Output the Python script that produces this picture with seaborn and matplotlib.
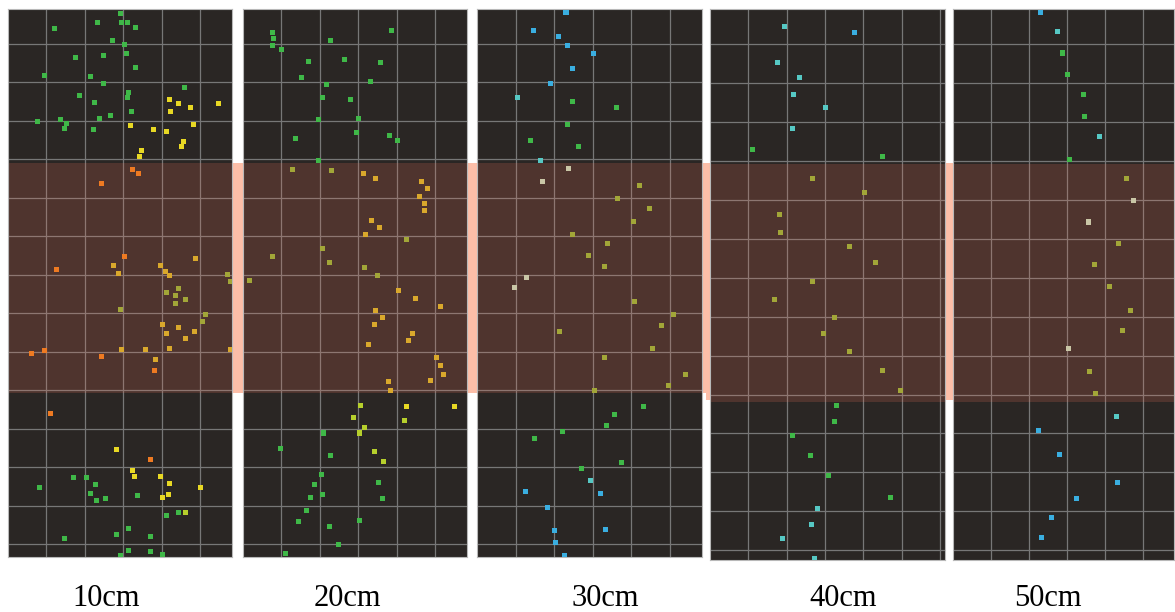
import matplotlib
matplotlib.use('Agg')
import matplotlib.pyplot as plt
from matplotlib.patches import Rectangle
import seaborn as sns

# Points, in grid-cell units (x from the left edge, y from the top edge).
# kind: g green, y yellow, yg yellow-green, o orange, a amber, v olive, b blue, t teal, p pale
labels = ['10cm', '20cm', '30cm', '40cm', '50cm']

p10_x = [2.93, 2.32, 2.96, 3.10, 3.31, 1.22, 2.71, 3.03, 3.08, 1.76, 2.49, 3.31, 0.94, 2.14,
         2.49, 1.87, 3.13, 3.10, 2.25, 3.20, 2.67, 2.39, 0.76, 1.36, 1.51, 1.46, 2.22, 4.59,
         4.19, 4.44, 4.73, 4.23, 5.46, 4.81, 3.17, 3.77, 4.12, 4.55, 4.51, 3.48, 3.42,
         3.24, 3.39, 2.42, 3.02, 2.74, 1.26, 2.88, 3.97, 4.09, 4.20, 4.87, 5.71, 5.78, 4.42,
         4.12, 4.34, 4.62, 4.34, 2.93, 5.13, 5.05, 4.02, 4.42, 4.12, 4.84, 4.62, 4.20, 2.96,
         3.58, 5.78, 0.62, 0.94, 2.42, 3.84, 3.80,
         1.11, 2.81, 3.70, 3.24, 3.29, 3.95, 4.20, 5.01, 4.16, 4.02, 1.69, 2.03, 0.83, 2.27,
         2.14, 2.29, 2.53, 3.37, 4.12, 4.42, 4.62, 3.13, 2.81, 3.71, 1.47, 3.13, 3.71, 4.02, 2.92]
p10_y = [0.11, 0.35, 0.35, 0.35, 0.47, 0.50, 0.82, 0.93, 1.15, 1.26, 1.22, 1.51, 1.72, 1.76,
         1.94, 2.24, 2.16, 2.29, 2.42, 2.67, 2.76, 2.84, 2.92, 2.87, 2.98, 3.10, 3.13, 2.03,
         2.35, 2.45, 2.56, 2.66, 2.45, 3.00, 3.03, 3.13, 3.17, 3.43, 3.57, 3.67, 3.82,
         4.16, 4.28, 4.54, 6.43, 6.65, 6.77, 6.86, 6.65, 6.82, 6.91, 6.47, 6.89, 7.08, 7.26,
         7.37, 7.45, 7.54, 7.65, 7.81, 7.94, 8.12, 8.18, 8.27, 8.43, 8.38, 8.56, 8.81, 8.85,
         8.84, 8.85, 8.94, 8.87, 9.03, 9.09, 9.39,
         10.51, 11.45, 11.70, 11.99, 12.14, 12.13, 12.33, 12.42, 12.61, 12.68, 12.17, 12.16, 12.42, 12.35,
         12.59, 12.75, 12.71, 12.64, 13.16, 13.07, 13.07, 13.50, 13.65, 13.71, 13.75, 14.07, 14.10, 14.17, 14.18]
p10_c = ['g'] * 28 + ['y'] * 13 + \
        ['o', 'o', 'o', 'o', 'a', 'o', 'a', 'a', 'a', 'a', 'a', 'v', 'v', 'v',
         'v', 'v', 'v', 'v', 'v', 'v', 'v', 'a', 'a', 'a', 'a', 'a', 'a', 'a',
         'a', 'a', 'o', 'o', 'o', 'a', 'o'] + \
        ['o', 'y', 'o', 'y', 'y', 'y', 'y', 'y', 'y', 'y', 'g', 'g', 'g', 'g',
         'g', 'g', 'g', 'g', 'g', 'g', 'yg', 'g', 'g', 'g', 'g', 'g', 'g', 'g', 'g']

p20_x = [0.76, 0.80, 0.76, 1.01, 2.28, 3.87, 1.71, 2.63, 3.58, 1.52, 3.30, 2.17, 2.06, 2.80,
         1.97, 2.99, 1.36, 2.96, 3.80, 4.01, 1.96,
         1.29, 2.31, 3.13, 3.45, 4.65, 4.79, 4.58, 4.72, 4.72, 3.34, 3.55, 3.17, 4.26, 2.06,
         0.76, 2.26, 3.16, 3.49, 0.16, 4.05, 4.47, 5.14, 3.45, 3.62, 3.41, 4.41, 4.29, 3.26,
         5.03, 5.13, 5.21, 4.87, 3.77, 3.84,
         3.06, 4.26, 5.50, 2.88, 4.19, 3.15, 2.10, 3.02, 0.97, 3.41, 2.28, 3.66, 2.03, 1.85,
         3.53, 1.75, 2.07, 3.62, 1.64, 1.43, 2.25, 3.02, 2.49, 1.11]
p20_y = [0.61, 0.76, 0.94, 1.05, 0.83, 0.55, 1.37, 1.30, 1.40, 1.77, 1.87, 1.96, 2.31, 2.35,
         2.87, 2.85, 3.35, 3.20, 3.28, 3.42, 3.93,
         4.16, 4.19, 4.26, 4.40, 4.47, 4.65, 4.87, 5.04, 5.22, 5.50, 5.68, 5.85, 5.99, 6.22,
         6.42, 6.57, 6.72, 6.92, 7.04, 7.30, 7.51, 7.72, 7.83, 8.01, 8.18, 8.42, 8.60, 8.70,
         9.06, 9.27, 9.49, 9.64, 9.67, 9.90,
         10.29, 10.33, 10.33, 10.62, 10.69, 10.87, 11.01, 11.01, 11.42, 11.50, 11.59, 11.74, 12.08, 12.35,
         12.29, 12.68, 12.61, 12.71, 13.03, 13.32, 13.43, 13.28, 13.90, 14.15]
p20_c = ['g'] * 21 + \
        ['v', 'v', 'a', 'a', 'a', 'a', 'a', 'a', 'a', 'a', 'a', 'a', 'v', 'v',
         'v', 'v', 'v', 'v', 'v', 'a', 'a', 'a', 'a', 'a', 'a', 'a', 'a', 'a',
         'a', 'a', 'a', 'a', 'a', 'a'] + \
        ['yg', 'y', 'y', 'yg', 'yg', 'yg', 'g', 'yg', 'g', 'yg', 'g', 'yg', 'g', 'g',
         'g', 'g', 'g', 'g', 'g', 'g', 'g', 'g', 'g', 'g']

p30_x = [2.31, 1.47, 2.12, 2.36, 3.02, 2.47, 1.92, 1.06, 2.49, 3.63, 2.36, 1.39, 2.63, 1.65,
         2.38, 1.70, 4.23, 3.65, 4.47, 4.07, 2.48, 3.39, 2.89, 3.30, 1.28, 0.98, 4.09, 5.09,
         4.78, 2.15, 4.55, 3.32, 5.41, 4.98, 3.05,
         4.33, 3.58, 3.37, 2.23, 1.49, 3.74, 2.70, 2.95, 1.27, 3.20, 1.82, 3.34, 2.00, 2.03, 2.27]
p30_y = [0.10, 0.55, 0.72, 0.96, 1.15, 1.55, 1.93, 2.31, 2.40, 2.55, 3.00, 3.41, 3.56, 3.94,
         4.15, 4.48, 4.59, 4.93, 5.19, 5.51, 5.85, 6.10, 6.40, 6.68, 6.97, 7.24, 7.59, 7.93,
         8.22, 8.38, 8.82, 9.05, 9.49, 9.78, 9.90,
         10.31, 10.54, 10.82, 10.96, 11.16, 11.77, 11.92, 12.24, 12.54, 12.58, 12.94, 13.52, 13.55, 13.86, 14.20]
p30_c = ['b'] * 7 + ['t', 'g', 'g', 'g', 'g', 'g', 't'] + \
        ['p', 'p', 'v', 'v', 'v', 'v', 'v', 'v', 'v', 'v', 'p', 'p', 'v', 'v',
         'v', 'v', 'v', 'v', 'v', 'v', 'v'] + \
        ['g'] * 7 + ['t'] + ['b'] * 7

p40_x = [1.95, 3.77, 1.77, 2.33, 2.18, 3.01, 2.15, 1.11, 4.50,
         2.67, 4.04, 1.80, 1.83, 3.63, 4.32, 2.67, 1.67, 3.25, 2.95, 3.63, 4.50, 4.98,
         3.29, 3.25, 2.15, 2.62, 3.08, 4.70, 2.80, 2.65, 1.90, 2.73]
p40_y = [0.44, 0.61, 1.37, 1.75, 2.20, 2.54, 3.07, 3.61, 3.79,
         4.36, 4.72, 5.29, 5.73, 6.10, 6.51, 7.00, 7.47, 7.91, 8.33, 8.80, 9.29, 9.79,
         10.17, 10.60, 10.96, 11.46, 11.97, 12.54, 12.82, 13.25, 13.61, 14.12]
p40_c = ['t', 'b', 't', 't', 't', 't', 't', 'g', 'g'] + ['v'] * 13 + \
        ['g', 'g', 'g', 'g', 'g', 'g', 't', 't', 't', 't']

p50_x = [2.31, 2.74, 2.88, 3.01, 3.43, 3.45, 3.87, 3.07,
         4.58, 4.76, 3.56, 4.36, 3.73, 4.12, 4.68, 4.46, 3.04, 3.59, 3.74,
         4.31, 2.26, 2.80, 4.32, 3.26, 2.60, 2.32]
p50_y = [0.08, 0.59, 1.13, 1.67, 2.19, 2.76, 3.28, 3.86,
         4.36, 4.93, 5.47, 6.02, 6.55, 7.13, 7.73, 8.25, 8.71, 9.31, 9.88,
         10.47, 10.83, 11.43, 12.16, 12.57, 13.05, 13.58]
p50_c = ['b', 't', 'g', 'g', 'g', 'g', 't', 'g',
         'v', 'p', 'p', 'v', 'v', 'v', 'v', 'v', 'p', 'v', 'v',
         't', 'b', 'b', 'b', 'b', 'b', 'b']

palette = {'g': '#3fb848', 'y': '#e8d824', 'yg': '#b6cf2c', 'o': '#ee7a22',
           'a': '#d9a82c', 'v': '#a2a638', 'b': '#3aaee0', 't': '#56c8c4',
           'p': '#c9c6a6'}

sns.set_theme(style='white')
plt.rcParams['font.family'] = ['Liberation Serif', 'DejaVu Serif']

W, H = 1175, 612
fig = plt.figure(figsize=(W / 100, H / 100), dpi=100)

# salmon strip showing through the gaps between panels (pixels)
for x0, x1, y0, y1 in [(8, 706, 163, 393), (706, 1174, 163, 400)]:
    fig.add_artist(Rectangle((x0 / W, 1 - y1 / H), (x1 - x0) / W, (y1 - y0) / H,
                             transform=fig.transFigure, color='#fcbea8', lw=0, zorder=-5))

# panel layout: left, top, width, height (pixels), x extent, y extent, band limits
layout = [(8, 9, 224, 548, 5.82, 14.23, 4.0, 9.97),
          (243, 9, 224, 548, 5.82, 14.23, 4.0, 9.97),
          (477, 9, 225, 548, 5.84, 14.23, 4.0, 9.97),
          (710, 9, 235, 551, 6.13, 14.15, 3.98, 10.1),
          (953, 9, 221, 551, 5.82, 14.15, 3.98, 10.1)]
data = [(p10_x, p10_y, p10_c), (p20_x, p20_y, p20_c), (p30_x, p30_y, p30_c),
        (p40_x, p40_y, p40_c), (p50_x, p50_y, p50_c)]
label_x = [106, 347, 605, 843, 1048]

for (left, top, w, h, xmax, ymax, b0, b1), (xs, ys, cs), lab, lx in zip(layout, data, labels, label_x):
    ax = fig.add_axes([left / W, 1 - (top + h) / H, w / W, h / H])
    ax.set_facecolor('#2a2624')
    ax.set_axisbelow(True)
    ax.set_xticks([k for k in range(1, 7) if k < xmax - 0.1])
    ax.set_yticks([0.9 + k for k in range(14)])
    ax.grid(True, color='#777777', lw=0.9)
    ax.tick_params(length=0, labelbottom=False, labelleft=False)
    ax.axhspan(b0, b1, color='#f0745a', alpha=0.19, lw=0, zorder=1)
    sns.scatterplot(x=xs, y=ys, hue=cs, palette=palette, marker='s', s=13,
                    linewidth=0, legend=False, ax=ax, zorder=3)
    ax.set_xlim(0, xmax)
    ax.set_ylim(ymax, 0)
    ax.set_xlabel('')
    ax.set_ylabel('')
    for sp in ax.spines.values():
        sp.set_color('#b8b8b8')
        sp.set_linewidth(0.8)
    fig.text(lx / W, 1 - 598 / H, lab, ha='center', va='center', fontsize=22, color='black')

fig.savefig('out.png', dpi=100)
